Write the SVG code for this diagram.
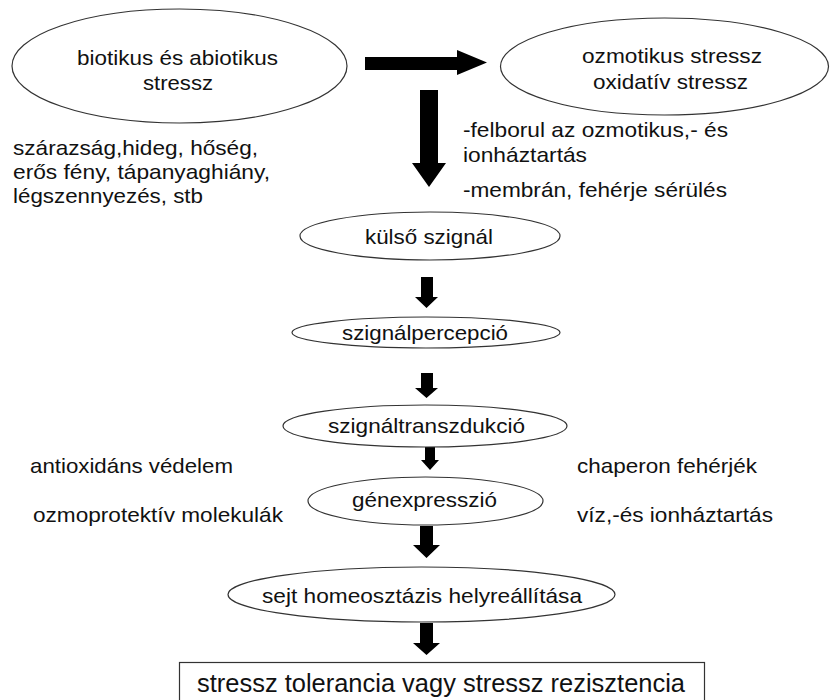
<svg xmlns="http://www.w3.org/2000/svg" width="830" height="700" viewBox="0 0 830 700">
<style>
  .node { fill: #ffffff; stroke: #333333; stroke-width: 1.2; }
  .t { font-family: "Liberation Sans", Arial, sans-serif; font-size: 21px; fill: #111111; }
  .tb { font-family: "Liberation Sans", Arial, sans-serif; font-size: 25px; fill: #111111; }
  .arrow { fill: #000000; stroke: none; }
</style>
<rect x="0" y="0" width="830" height="700" fill="#ffffff"/>

<g id="connectors">
  <polygon class="arrow" points="365,57 457,57 457,50 487,62.5 457,75 457,70 365,70"/>
  <polygon class="arrow" points="420,90 438,90 438,163 446,163 429,187 412,163 420,163"/>
  <polygon class="arrow" points="421,277 433,277 433,297 438,297 426.5,308 415,297 421,297"/>
  <polygon class="arrow" points="421,373 433,373 433,388 438,388 426.5,398 415,388 421,388"/>
  <polygon class="arrow" points="425,447 435,447 435,460 439,460 430,470 421,460 425,460"/>
  <polygon class="arrow" points="420,526 433,526 433,545 440,545 426.5,558 413,545 420,545"/>
  <polygon class="arrow" points="420,623 433,623 433,643 440,643 426.5,655 413,643 420,643"/>
</g>

<g id="node-stress">
  <ellipse class="node" cx="179.5" cy="66" rx="167.5" ry="57"/>
  <text class="t" x="77" y="65" textLength="201" lengthAdjust="spacingAndGlyphs">biotikus és abiotikus</text>
  <text class="t" x="143" y="90" textLength="70" lengthAdjust="spacingAndGlyphs">stressz</text>
</g>

<g id="node-osmotic">
  <ellipse class="node" cx="664.5" cy="66.5" rx="164" ry="48.5"/>
  <text class="t" x="582" y="63" textLength="180" lengthAdjust="spacingAndGlyphs">ozmotikus stressz</text>
  <text class="t" x="593" y="89" textLength="155" lengthAdjust="spacingAndGlyphs">oxidatív stressz</text>
</g>

<g id="label-causes">
  <text class="t" x="13" y="155" textLength="245" lengthAdjust="spacingAndGlyphs">szárazság,hideg, hőség,</text>
  <text class="t" x="13" y="179" textLength="257" lengthAdjust="spacingAndGlyphs">erős fény, tápanyaghiány,</text>
  <text class="t" x="13" y="203" textLength="190" lengthAdjust="spacingAndGlyphs">légszennyezés, stb</text>
</g>

<g id="label-effects">
  <text class="t" x="463" y="137" textLength="265" lengthAdjust="spacingAndGlyphs">-felborul az ozmotikus,- és</text>
  <text class="t" x="463" y="162" textLength="124" lengthAdjust="spacingAndGlyphs">ionháztartás</text>
  <text class="t" x="463" y="197" textLength="264" lengthAdjust="spacingAndGlyphs">-membrán, fehérje sérülés</text>
</g>

<g id="node-kulso">
  <ellipse class="node" cx="430" cy="236" rx="130" ry="24"/>
  <text class="t" x="365" y="244" textLength="128" lengthAdjust="spacingAndGlyphs">külső szignál</text>
</g>

<g id="node-percepcio">
  <ellipse class="node" cx="426" cy="332.5" rx="134" ry="15.5"/>
  <text class="t" x="342" y="340" textLength="166" lengthAdjust="spacingAndGlyphs">szignálpercepció</text>
</g>

<g id="node-transzdukcio">
  <ellipse class="node" cx="425" cy="426" rx="142" ry="21"/>
  <text class="t" x="328" y="433" textLength="197" lengthAdjust="spacingAndGlyphs">szignáltranszdukció</text>
</g>

<g id="label-left">
  <text class="t" x="30" y="473" textLength="203" lengthAdjust="spacingAndGlyphs">antioxidáns védelem</text>
  <text class="t" x="33" y="522" textLength="250" lengthAdjust="spacingAndGlyphs">ozmoprotektív molekulák</text>
</g>

<g id="label-right">
  <text class="t" x="577" y="473" textLength="180" lengthAdjust="spacingAndGlyphs">chaperon fehérjék</text>
  <text class="t" x="577" y="522" textLength="196" lengthAdjust="spacingAndGlyphs">víz,-és ionháztartás</text>
</g>

<g id="node-genexpresszio">
  <ellipse class="node" cx="425.5" cy="501" rx="117.5" ry="24"/>
  <text class="t" x="352" y="507" textLength="145" lengthAdjust="spacingAndGlyphs">génexpresszió</text>
</g>

<g id="node-homeosztazis">
  <ellipse class="node" cx="421.5" cy="594.5" rx="193.5" ry="27.5"/>
  <text class="t" x="262" y="603" textLength="320" lengthAdjust="spacingAndGlyphs">sejt homeosztázis helyreállítása</text>
</g>

<g id="node-tolerancia">
  <rect class="node" x="179.5" y="662.5" width="525" height="40"/>
  <text class="tb" x="197" y="692" textLength="488" lengthAdjust="spacingAndGlyphs">stressz tolerancia vagy stressz rezisztencia</text>
</g>
</svg>
